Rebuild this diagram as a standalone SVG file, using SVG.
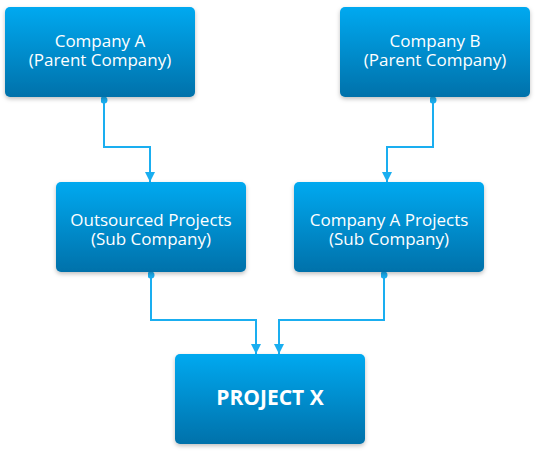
<svg xmlns="http://www.w3.org/2000/svg" width="537" height="451" viewBox="0 0 537 451">
<defs>
<linearGradient id="g" x1="0" y1="0" x2="0" y2="1">
<stop offset="0" stop-color="#03a9f0"/>
<stop offset="1" stop-color="#0271aa"/>
</linearGradient>
<filter id="sh" x="-10%" y="-10%" width="120%" height="130%">
<feDropShadow dx="0" dy="2" stdDeviation="2" flood-color="#000" flood-opacity="0.25"/>
</filter>
<marker id="arr" viewBox="0 0 10 10" refX="10" refY="5" markerWidth="10" markerHeight="10" markerUnits="userSpaceOnUse" orient="auto">
<path d="M0,0 L10,5 L0,10 z" fill="#1aaef0"/>
</marker>
<marker id="dot" viewBox="0 0 8 8" refX="4" refY="4" markerWidth="7" markerHeight="7" markerUnits="userSpaceOnUse">
<circle cx="4" cy="4" r="4" fill="#1aaef0"/>
</marker>
</defs>
<style>
.box{fill:url(#g);filter:url(#sh)}
.t{font-family:"Open Sans","Noto Sans",sans-serif;font-size:17px;fill:#fff;text-anchor:middle}
.b{font-weight:bold;font-size:21px}
.c{fill:none;stroke:#1aaef0;stroke-width:2;marker-start:url(#dot);marker-end:url(#arr)}
</style>
<g id="connectors">
<path class="c" d="M104,100 V147 H150 V182"/>
<path class="c" d="M433,100 V147 H387 V182"/>
<path class="c" d="M151,275 V320 H256 V354"/>
<path class="c" d="M384,275 V320 H279 V354"/>
</g>
<g id="companyA">
<rect class="box" x="5" y="7" width="190" height="90" rx="5"/>
<text class="t" x="100" y="47">Company A</text>
<text class="t" x="100" y="66">(Parent Company)</text>
</g>
<g id="companyB">
<rect class="box" x="340" y="7" width="190" height="90" rx="5"/>
<text class="t" x="435" y="47">Company B</text>
<text class="t" x="435" y="66">(Parent Company)</text>
</g>
<g id="outsourced">
<rect class="box" x="56" y="182" width="190" height="90" rx="5"/>
<text class="t" x="151" y="226">Outsourced Projects</text>
<text class="t" x="151" y="245">(Sub Company)</text>
</g>
<g id="companyAProjects">
<rect class="box" x="294" y="182" width="190" height="90" rx="5"/>
<text class="t" x="389" y="226">Company A Projects</text>
<text class="t" x="389" y="245">(Sub Company)</text>
</g>
<g id="projectX">
<rect class="box" x="175" y="354" width="190" height="90" rx="5"/>
<text class="t b" x="270" y="405">PROJECT X</text>
</g>
</svg>
